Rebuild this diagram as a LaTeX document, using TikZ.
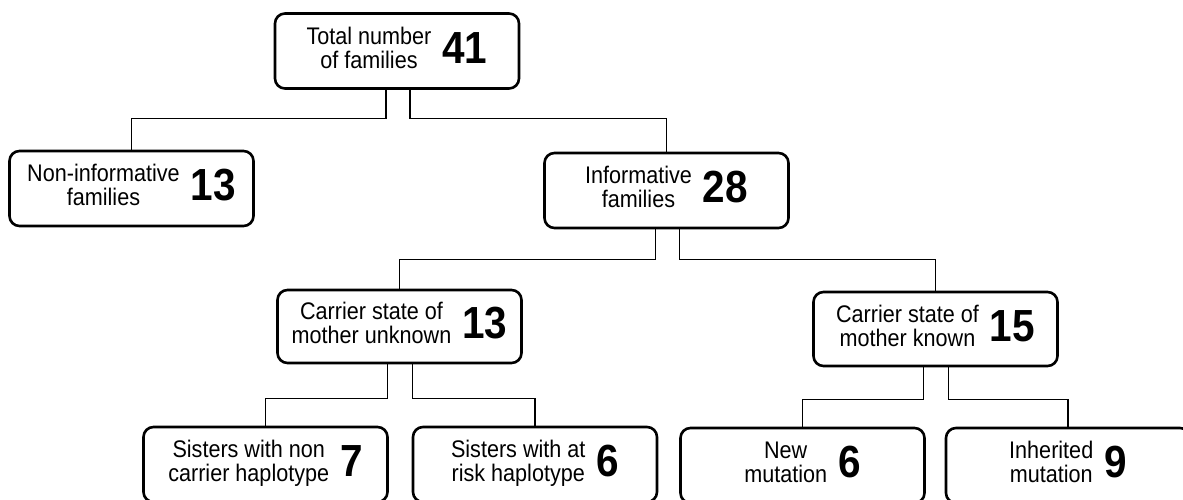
\documentclass[tikz,border=0pt]{standalone}
\usepackage{fontspec}
\setmainfont[FakeStretch=0.9]{Liberation Sans}
\usepackage{tikz}
\newcommand{\famtext}[2]{\begin{tabular}{@{}c@{}}#1\end{tabular}\hspace{11pt}\begin{tabular}{@{}c@{}}\fontsize{45}{45}\selectfont\bfseries #2\end{tabular}}

\begin{document}
\begin{tikzpicture}[x=1pt, y=-1pt,
  famnode/.style={draw, line width=2.6pt, rounded corners=10pt, minimum width=244pt, minimum height=75pt, inner sep=0pt, font=\fontsize{24}{23}\selectfont},
  link/.style={line width=1.3pt}]
\useasboundingbox[fill=white] (0,0) rectangle (1183,500);
\node[famnode] (total) at (397,51) {\famtext{Total number\\of families}{41}};
\node[famnode] (noninf) at (131.5,188.5) {\famtext{Non-informative\\families}{13}};
\node[famnode] (inform) at (666.5,190.5) {\famtext{Informative\\families}{28}};
\node[famnode, minimum height=73pt] (unknown) at (399.5,326.5) {\famtext{Carrier state of\\mother unknown}{13}};
\node[famnode, minimum height=74pt] (known) at (935.5,329) {\famtext{Carrier state of\\mother known}{15}};
\node[famnode] (sisnon) at (265.5,464.5) {\famtext{Sisters with non\\carrier haplotype}{7}};
\node[famnode] (sisrisk) at (535,464.5) {\famtext{Sisters with at\\risk haplotype}{6}};
\node[famnode] (newmut) at (802.5,465.5) {\famtext{New\\mutation}{6}};
\node[famnode] (inher) at (1068,465.5) {\famtext{Inherited\\mutation}{9}};
\draw[link] ([xshift=-11pt]total.south) -- ++(0,29) -| (noninf.north);
\draw[link] ([xshift=13pt]total.south) -- ++(0,29) -| (inform.north);
\draw[link] ([xshift=-11pt]inform.south) -- ++(0,30) -| (unknown.north);
\draw[link] ([xshift=13pt]inform.south) -- ++(0,30) -| (known.north);
\draw[link] ([xshift=-12pt]unknown.south) -- ++(0,34) -| (sisnon.north);
\draw[link] ([xshift=13pt]unknown.south) -- ++(0,34) -| (sisrisk.north);
\draw[link] ([xshift=-12pt]known.south) -- ++(0,32) -| (newmut.north);
\draw[link] ([xshift=13pt]known.south) -- ++(0,32) -| (inher.north);
\end{tikzpicture}
\end{document}
